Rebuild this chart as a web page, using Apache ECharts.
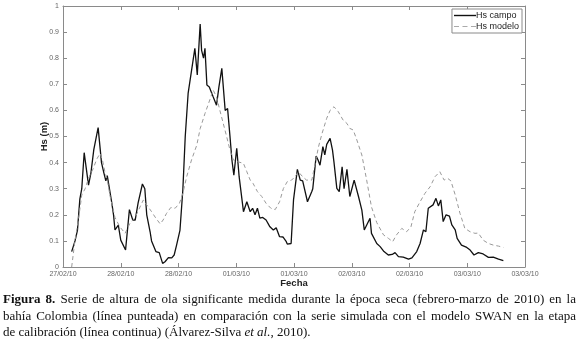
<!DOCTYPE html>
<html>
<head>
<meta charset="utf-8">
<script src="https://cdn.jsdelivr.net/npm/echarts@6/dist/echarts.min.js"></script>
<style>
  html, body { margin: 0; padding: 0; background: #fff; }
  #chart { position: absolute; left: 0; top: 0; width: 579px; height: 341px; }
  .caption {
    position: absolute; left: 3px; top: 291px; width: 573px;
    font-family: "Liberation Serif", "DejaVu Serif", serif; font-size: 13px; line-height: 16.5px; color: #111;
  }
  .caption .j { text-align: justify; text-align-last: justify; white-space: nowrap; }
</style>
</head>
<body>
<div id="chart"></div>
<div class="caption">
  <div class="j"><b>Figura 8.</b> Serie de altura de ola significante medida durante la época seca (febrero-marzo de 2010) en la</div>
  <div class="j">bahía Colombia (línea punteada) en comparación con la serie simulada con el modelo SWAN en la etapa</div>
  <div>de calibración (línea continua) (Álvarez-Silva <i>et al.</i>, 2010).</div>
</div>
<script>
// horas desde la primera marca del eje (27/02/10), cada marca = 12 h
var tickLabels = ['27/02/10', '28/02/10', '28/02/10', '01/03/10', '01/03/10', '02/03/10', '02/03/10', '03/03/10', '03/03/10'];

var campoHoras = [1.8, 2.5, 3.0, 3.5, 3.9, 4.4, 5.3, 5.8, 6.4, 7.3, 8.0, 8.5, 8.9, 9.2, 10.1, 10.5, 10.8, 11.5, 12.0, 12.4,
  13.0, 13.8, 14.5, 15.0, 15.6, 16.5, 17.0, 17.4, 18.1, 18.4, 19.3, 20.0, 20.7, 21.2, 21.9, 22.6, 23.1, 23.6, 24.3, 24.9,
  25.4, 26.0, 27.4, 27.9, 28.5, 28.8, 29.2, 29.5, 29.9, 30.4, 31.2, 31.9, 32.4, 33.0, 33.7, 34.2, 34.7, 35.1, 35.5, 36.1,
  36.6, 37.5, 38.2, 38.9, 39.4, 39.9, 40.4, 40.9, 41.5, 42.2, 43.0, 43.7, 44.3, 45.0, 45.7, 46.4, 46.6, 47.0, 47.4, 47.9,
  48.2, 48.7, 49.3, 49.8, 50.8, 51.7, 51.9, 52.6, 53.0, 53.4, 54.0, 54.4, 54.8, 55.5, 56.0, 56.3, 56.9, 57.4, 58.0, 58.4,
  59.0, 59.6, 60.5, 61.4, 62.1, 62.6, 63.8, 64.1, 65.2, 65.9, 66.2, 66.7, 67.6, 68.4, 69.0, 69.7, 70.7, 71.8, 72.5, 73.5,
  74.2, 74.9, 75.4, 75.9, 76.9, 77.5, 78.0, 78.5, 79.0, 79.6, 80.3, 80.8, 81.5, 81.9, 82.8, 83.9, 84.6, 85.4, 86.3, 87.3,
  88.4, 89.4, 90.5, 91.5];
var campoHs = [0.059, 0.10, 0.14, 0.26, 0.30, 0.438, 0.314, 0.36, 0.45, 0.534, 0.40, 0.36, 0.33, 0.35, 0.25, 0.20, 0.142, 0.16, 0.103, 0.11,
  0.065, 0.22, 0.18, 0.18, 0.245, 0.318, 0.30, 0.20, 0.135, 0.10, 0.059, 0.055, 0.014, 0.02, 0.036, 0.035, 0.046, 0.084, 0.14, 0.295,
  0.50, 0.665, 0.838, 0.736, 0.931, 0.83, 0.80, 0.838, 0.697, 0.69, 0.652, 0.62, 0.69, 0.761, 0.60, 0.607, 0.50, 0.41, 0.352, 0.455,
  0.346, 0.212, 0.25, 0.212, 0.225, 0.20, 0.225, 0.187, 0.19, 0.18, 0.154, 0.142, 0.15, 0.116, 0.115, 0.097, 0.088, 0.085, 0.09, 0.257,
  0.26, 0.374, 0.333, 0.33, 0.25, 0.289, 0.30, 0.425, 0.41, 0.39, 0.461, 0.43, 0.47, 0.493, 0.448, 0.403, 0.301, 0.289, 0.384, 0.30,
  0.374, 0.27, 0.333, 0.27, 0.218, 0.142, 0.187, 0.129, 0.09, 0.078, 0.084, 0.059, 0.046, 0.048, 0.055, 0.04, 0.038, 0.03, 0.035, 0.059,
  0.09, 0.142, 0.135, 0.225, 0.238, 0.263, 0.234, 0.257, 0.174, 0.20, 0.195, 0.161, 0.142, 0.11, 0.084, 0.075, 0.065, 0.046, 0.055, 0.05,
  0.037, 0.038, 0.03, 0.024];

var modeloHoras = [1.8, 2.5, 3.2, 3.9, 4.6, 5.3, 6.3, 7.0, 7.7, 8.2, 8.7, 9.2, 9.8, 10.8, 11.8, 12.9, 13.9, 15.0, 16.0, 16.7,
  17.4, 18.4, 19.3, 20.2, 20.8, 21.5, 22.4, 23.3, 24.2, 24.9, 25.7, 26.7, 27.8, 28.5, 29.5, 30.5, 31.2, 31.9, 32.6, 33.3,
  34.0, 34.7, 35.4, 36.4, 37.5, 38.2, 38.9, 39.5, 40.4, 41.3, 42.2, 43.2, 44.1, 45.0, 45.8, 46.6, 47.5, 48.2, 48.9, 49.8,
  50.6, 51.7, 52.4, 53.1, 53.8, 54.8, 55.5, 56.3, 57.2, 58.2, 59.0, 59.6, 60.3, 61.0, 62.1, 63.1, 64.1, 65.2, 66.6, 67.6,
  68.5, 69.3, 70.4, 71.4, 72.3, 73.1, 74.2, 75.2, 76.3, 77.3, 78.3, 79.2, 79.9, 80.6, 81.5, 82.5, 83.5, 84.6, 85.6, 86.3,
  87.3, 88.4, 89.4, 90.5, 91.5];
var modeloHs = [0, 0.103, 0.18, 0.276, 0.30, 0.34, 0.378, 0.413, 0.435, 0.41, 0.365, 0.333, 0.27, 0.19, 0.154, 0.129, 0.167, 0.19, 0.23, 0.257,
  0.238, 0.212, 0.187, 0.165, 0.18, 0.205, 0.228, 0.225, 0.244, 0.282, 0.346, 0.41, 0.467, 0.53, 0.588, 0.64, 0.678, 0.652, 0.60, 0.55,
  0.50, 0.448, 0.41, 0.403, 0.397, 0.365, 0.333, 0.32, 0.289, 0.27, 0.244, 0.225, 0.22, 0.25, 0.301, 0.327, 0.333, 0.346, 0.365, 0.346,
  0.333, 0.333, 0.397, 0.461, 0.51, 0.57, 0.60, 0.614, 0.595, 0.563, 0.55, 0.531, 0.525, 0.49, 0.429, 0.333, 0.23, 0.17, 0.123, 0.11,
  0.097, 0.123, 0.148, 0.135, 0.154, 0.212, 0.25, 0.282, 0.308, 0.346, 0.365, 0.333, 0.34, 0.33, 0.276, 0.205, 0.148, 0.135, 0.129, 0.13,
  0.103, 0.09, 0.084, 0.08, 0.075];

function pairs(xs, ys) {
  return xs.map(function (x, i) { return [x, ys[i]]; });
}

var axisColor = '#8a8a8a';
var sans = 'Liberation Sans, Arial, sans-serif';
var labelStyle = { fontFamily: sans, fontSize: 7, color: '#666' };

var chart = echarts.init(document.getElementById('chart'));
chart.setOption({
  animation: false,
  grid: { left: 63, right: 54, top: 6, bottom: 74 },
  legend: {
    orient: 'vertical',
    right: 57, top: 9,
    itemWidth: 22, itemHeight: 10, itemGap: 2,
    padding: [2, 3, 2, 2],
    borderColor: axisColor, borderWidth: 1, backgroundColor: '#fff',
    textStyle: { fontFamily: sans, fontSize: 9, color: '#222', padding: [0, 0, 0, -5] },
    data: [
      { name: 'Hs campo', icon: 'path://M0,0h22v1.4h-22z', itemStyle: { color: '#111' } },
      { name: 'Hs modelo', icon: 'path://M0,0h5v1.2h-5z M8.5,0h5v1.2h-5z M17,0h5v1.2h-5z', itemStyle: { color: '#aaa' } }
    ]
  },
  xAxis: [{
    type: 'value', min: 0, max: 96, interval: 12,
    name: 'Fecha', nameLocation: 'middle', nameGap: 11, nameMoveOverlap: false,
    nameTextStyle: { fontFamily: sans, fontSize: 9.5, fontWeight: 'bold', color: '#222' },
    axisLine: { onZero: false, lineStyle: { color: axisColor } },
    axisTick: { inside: true, length: 4, lineStyle: { color: axisColor } },
    axisLabel: Object.assign({ margin: 4, formatter: function (v) { return tickLabels[Math.round(v / 12)]; } }, labelStyle),
    splitLine: { show: false }
  }, {
    type: 'value', min: 0, max: 96, interval: 12, position: 'top',
    axisLine: { onZero: false, lineStyle: { color: axisColor } },
    axisTick: { inside: true, length: 4, lineStyle: { color: axisColor } },
    axisLabel: { show: false }, splitLine: { show: false }
  }],
  yAxis: [{
    type: 'value', min: 0, max: 1, interval: 0.1,
    name: 'Hs (m)', nameLocation: 'middle', nameGap: 14, nameRotate: 90, nameMoveOverlap: false,
    nameTextStyle: { fontFamily: sans, fontSize: 9.5, fontWeight: 'bold', color: '#222' },
    axisLine: { show: true, onZero: false, lineStyle: { color: axisColor } },
    axisTick: { show: true, inside: true, length: 4, lineStyle: { color: axisColor } },
    axisLabel: Object.assign({ margin: 4, formatter: function (v) { return v === 0 || v === 1 ? String(v) : v.toFixed(1); } }, labelStyle),
    splitLine: { show: false }
  }, {
    type: 'value', min: 0, max: 1, interval: 0.1, position: 'right',
    axisLine: { show: true, onZero: false, lineStyle: { color: axisColor } },
    axisTick: { show: true, inside: true, length: 4, lineStyle: { color: axisColor } },
    axisLabel: { show: false }, splitLine: { show: false }
  }],
  series: [{
    name: 'Hs campo', type: 'line', symbol: 'none',
    data: pairs(campoHoras, campoHs),
    lineStyle: { color: '#111', width: 1.3 }, itemStyle: { color: '#111' }
  }, {
    name: 'Hs modelo', type: 'line', symbol: 'none',
    data: pairs(modeloHoras, modeloHs),
    lineStyle: { color: '#999', width: 1, type: [4, 3] }, itemStyle: { color: '#999' }
  }]
});
</script>
</body>
</html>
